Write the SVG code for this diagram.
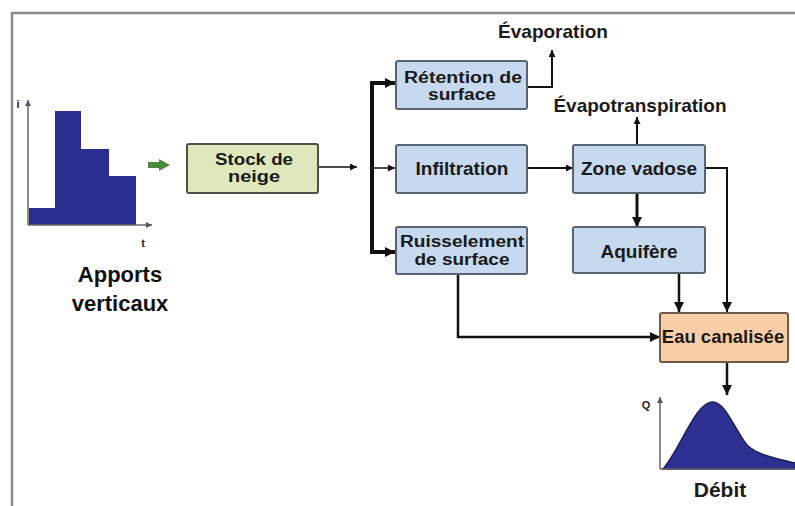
<svg xmlns="http://www.w3.org/2000/svg" width="795" height="506" viewBox="0 0 795 506">
<defs>
<style>
.lbl{font-family:"Liberation Sans",Arial,sans-serif;font-weight:bold;font-size:19px;fill:#1a1a1a;text-anchor:middle}
.lbl2{font-family:"Liberation Sans",Arial,sans-serif;font-weight:bold;font-size:16px;fill:#1a1a1a;text-anchor:middle}
.blue{fill:#c6d9ef;stroke:#5a6470;stroke-width:2}
.green{fill:#dfe8bd;stroke:#4e5048;stroke-width:2}
.peach{fill:#f9cea6;stroke:#6e5a48;stroke-width:2}
.c{fill:none;stroke:#111;stroke-linejoin:miter}
.axis{fill:none;stroke:#666;stroke-width:1.5}
.small{font-family:"Liberation Sans",Arial,sans-serif;font-weight:bold;font-size:11px;fill:#222;text-anchor:middle}
</style>
<marker id="ah" viewBox="0 0 10 10" refX="10" refY="5" markerWidth="11" markerHeight="10" markerUnits="userSpaceOnUse" orient="auto"><path d="M0,0 L10,5 L0,10 Z" fill="#111"/></marker>
<marker id="ahs" viewBox="0 0 10 10" refX="10" refY="5" markerWidth="10" markerHeight="7" markerUnits="userSpaceOnUse" orient="auto"><path d="M0,0 L10,5 L0,10 Z" fill="#111"/></marker>
<marker id="ahg" viewBox="0 0 10 10" refX="10" refY="5" markerWidth="7" markerHeight="6" markerUnits="userSpaceOnUse" orient="auto"><path d="M0,0 L10,5 L0,10 Z" fill="#555"/></marker>
</defs>
<rect width="795" height="506" fill="#ffffff"/>
<path d="M12,506 L12,13 L795,13" fill="none" stroke="#8c8c8c" stroke-width="2.5"/>

<g id="precipitation-chart">
<path d="M29,225 L29,208 L55,208 L55,111 L81,111 L81,149 L109,149 L109,176 L136,176 L136,225 Z" fill="#2b2e90"/>
<path class="axis" d="M28,225 L28,100" marker-end="url(#ahg)"/>
<path class="axis" d="M28,225 L152,225" marker-end="url(#ahg)"/>
<text class="small" x="18" y="108">i</text>
<text class="small" x="143" y="247">t</text>
<polygon points="148,162 159,162 159,159 170,165 159,171 159,168 148,168" fill="#4a8a3c"/>
</g>
<g id="apports">
<text x="120" y="282" font-family="'Liberation Sans',Arial,sans-serif" font-weight="bold" font-size="22" fill="#111" text-anchor="middle">Apports</text>
<text x="120" y="311" font-family="'Liberation Sans',Arial,sans-serif" font-weight="bold" font-size="22" fill="#111" text-anchor="middle">verticaux</text>
</g>

<g id="connectors">
<path class="c" stroke-width="1.5" d="M318,167 L357,167" marker-end="url(#ahs)"/>
<path class="c" stroke-width="4" d="M395,83 L372,83 L372,252 L395,252"/>
<path class="c" stroke-width="2" d="M372,83 L395,83" marker-end="url(#ah)"/>
<path class="c" stroke-width="2" d="M372,252 L395,252" marker-end="url(#ah)"/>
<path class="c" stroke-width="1.5" d="M372,168 L395,168" marker-end="url(#ahs)"/>
<path class="c" stroke-width="2" d="M527,87 L552,87 L552,50" marker-end="url(#ahs)"/>
<path class="c" stroke-width="2" d="M527,168 L573,168" marker-end="url(#ahs)"/>
<path class="c" stroke-width="2" d="M637,145 L637,117" marker-end="url(#ahs)"/>
<path class="c" stroke-width="3" d="M637,193 L637,227" marker-end="url(#ah)"/>
<path class="c" stroke-width="2" d="M705,168 L727,168 L727,312" marker-end="url(#ah)"/>
<path class="c" stroke-width="2.5" d="M679,273 L679,312" marker-end="url(#ah)"/>
<path class="c" stroke-width="2.5" d="M458,274 L458,337 L660,337" marker-end="url(#ah)"/>
<path class="c" stroke-width="2.5" d="M727,362 L727,395" marker-end="url(#ah)"/>
</g>

<g id="stock-neige">
<rect class="green" x="187" y="144" width="131" height="49" rx="2"/>
<text class="lbl2" x="254" y="165" textLength="78" lengthAdjust="spacingAndGlyphs">Stock de</text>
<text class="lbl2" x="254" y="182" textLength="52" lengthAdjust="spacingAndGlyphs">neige</text>
</g>
<g id="retention">
<rect class="blue" x="396" y="61" width="131" height="48" rx="2"/>
<text class="lbl2" x="463" y="83" textLength="118" lengthAdjust="spacingAndGlyphs">Rétention de</text>
<text class="lbl2" x="462" y="100" textLength="68" lengthAdjust="spacingAndGlyphs">surface</text>
</g>
<g id="infiltration">
<rect class="blue" x="396" y="145" width="131" height="48" rx="2"/>
<text class="lbl" x="462" y="175">Infiltration</text>
</g>
<g id="ruissellement">
<rect class="blue" x="396" y="227" width="131" height="47" rx="2"/>
<text class="lbl2" x="462" y="247" textLength="124" lengthAdjust="spacingAndGlyphs">Ruisselement</text>
<text class="lbl2" x="462" y="265" textLength="95" lengthAdjust="spacingAndGlyphs">de surface</text>
</g>
<g id="zone-vadose">
<rect class="blue" x="573" y="145" width="132" height="48" rx="2"/>
<text class="lbl" x="639" y="175">Zone vadose</text>
</g>
<g id="aquifere">
<rect class="blue" x="573" y="227" width="132" height="46" rx="2"/>
<text class="lbl" x="639" y="258">Aquifère</text>
</g>
<g id="evaporation">
<text class="lbl" x="553" y="38">Évaporation</text>
</g>
<g id="evapotranspiration">
<text class="lbl" x="640" y="112">Évapotranspiration</text>
</g>
<g id="eau-canalisee">
<rect class="peach" x="660" y="313" width="128" height="49" rx="2"/>
<text class="lbl" x="723" y="343" style="font-size:18.5px">Eau canalisée</text>
</g>
<g id="debit">
<path d="M663,469 C680,450 695,403 712,402 C725,401 735,430 747,445 C757,455 775,458 795,463 L795,469 Z" fill="#2e3192" stroke="#1c1f5e" stroke-width="1.5"/>
<path class="axis" d="M660,469 L660,397" marker-end="url(#ahg)"/>
<path class="axis" d="M660,469 L795,469"/>
<text class="small" x="646" y="409">Q</text>
<text class="lbl" x="720" y="497" style="font-size:21px">Débit</text>
</g>
</svg>
